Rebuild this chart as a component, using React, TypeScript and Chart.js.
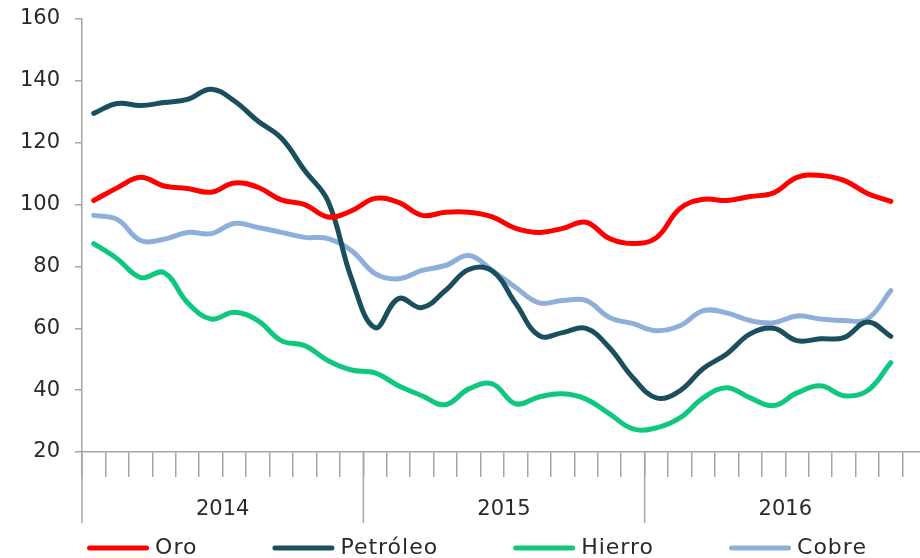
import React, { useEffect, useRef } from 'react';
import { Chart, registerables } from 'chart.js';

Chart.register(...registerables);

const months = [
  'ene-14', 'feb-14', 'mar-14', 'abr-14', 'may-14', 'jun-14', 'jul-14', 'ago-14', 'sep-14', 'oct-14', 'nov-14', 'dic-14',
  'ene-15', 'feb-15', 'mar-15', 'abr-15', 'may-15', 'jun-15', 'jul-15', 'ago-15', 'sep-15', 'oct-15', 'nov-15', 'dic-15',
  'ene-16', 'feb-16', 'mar-16', 'abr-16', 'may-16', 'jun-16', 'jul-16', 'ago-16', 'sep-16', 'oct-16', 'nov-16', 'dic-16',
];

const years = ['2014', '2015', '2016'];
const monthsPerYear = 12;

const oro = [
  101.3, 105.4, 108.8, 106, 105.2, 104, 107, 105.6, 101.5, 100, 96, 98,
  102, 100.7, 96.5, 97.5, 97.5, 96, 92.3, 91, 92.3, 94.3, 89, 87.4,
  89.3, 98.7, 101.7, 101.3, 102.6, 103.8, 108.8, 109.4, 107.8, 103.6, 101, null,
];
const petroleo = [
  129.5, 132.7, 132, 133, 134, 137.3, 133.5, 127, 121.5, 111, 101, 76,
  60.2, 69.6, 66.7, 72.2, 79, 78.5, 68, 57.6, 58.6, 60, 53.7, 44,
  37.5, 39.8, 47, 51.7, 58.2, 60, 56, 56.6, 57, 62, 57.4, null,
];
const hierro = [
  87.4, 82.5, 76.4, 78, 68.3, 63, 65.2, 62.5, 56, 54.4, 49.5, 46.5,
  45.6, 41.4, 38.2, 35.3, 40.4, 42, 35.6, 37.8, 38.8, 37.1, 32.3, 27.5,
  27.8, 31, 37.5, 40.8, 37.5, 35, 39.1, 41.4, 38.2, 39.8, 48.9, null,
];
const cobre = [
  96.5, 95.2, 88.4, 88.8, 91, 90.6, 93.9, 92.6, 91, 89.4, 89, 85.1,
  77.7, 76, 78.7, 80.3, 83.5, 78.7, 73.2, 68.2, 69, 69, 63.5, 61.5,
  59.2, 60.8, 65.7, 65, 62.5, 61.8, 64, 63, 62.5, 63, 72.2, null,
];

const seriesNames = ['Oro', 'Petróleo', 'Hierro', 'Cobre'];
const seriesColors = ['#ff0000', '#1c4f5e', '#10c77f', '#8fafdb'];

const yTicks = [20, 40, 60, 80, 100, 120, 140, 160];

const FONT = '"DejaVu Sans", sans-serif';
const TEXT = '#2a2a2a';
const AXIS = '#a6a6a6';

const overlayPlugin = {
  id: 'yearsAndLegend',
  afterDraw(chart: any) {
    const ctx = chart.ctx;
    const x = chart.scales.x;
    const step = x.getPixelForValue(1) - x.getPixelForValue(0);
    const base = chart.chartArea.bottom;
    ctx.save();
    // year dividers + labels
    ctx.strokeStyle = AXIS;
    ctx.lineWidth = 1.5;
    ctx.fillStyle = TEXT;
    ctx.font = `21px ${FONT}`;
    ctx.textAlign = 'center';
    ctx.textBaseline = 'middle';
    years.forEach((yr, k) => {
      const start = x.getPixelForValue(k * monthsPerYear) - step / 2;
      const end = x.getPixelForValue(k * monthsPerYear + monthsPerYear - 1) + step / 2;
      ctx.beginPath();
      ctx.moveTo(start, base);
      ctx.lineTo(start, base + 71);
      ctx.stroke();
      if (k === years.length - 1) {
        ctx.beginPath();
        ctx.moveTo(end, base);
        ctx.lineTo(end, base + 71);
        ctx.stroke();
      }
      ctx.fillText(yr, (start + end) / 2, base + 58);
    });

    // legend
    const lineLen = 62;
    const lineGap = 6;
    const itemGap = 75;
    ctx.font = `22px ${FONT}`;
    (ctx as any).letterSpacing = '1px';
    const ds = chart.data.datasets;
    const widths = ds.map((d: any) => lineLen + lineGap + ctx.measureText(d.label).width);
    const total = widths.reduce((a: number, b: number) => a + b, 0) + itemGap * (ds.length - 1);
    let cx = chart.width / 2 - total / 2;
    const ly = 548;
    ds.forEach((d: any, i: number) => {
      ctx.strokeStyle = d.borderColor;
      ctx.lineWidth = 5;
      ctx.lineCap = 'round';
      ctx.beginPath();
      ctx.moveTo(cx + 2.5, ly);
      ctx.lineTo(cx + lineLen - 2.5, ly);
      ctx.stroke();
      ctx.fillStyle = TEXT;
      ctx.textAlign = 'left';
      ctx.textBaseline = 'middle';
      ctx.fillText(d.label, cx + lineLen + lineGap, ly);
      cx += widths[i] + itemGap;
    });
    ctx.restore();
  },
};

export default function App() {
  const ref = useRef<HTMLCanvasElement | null>(null);

  useEffect(() => {
    if (!ref.current) return;
    const values = [oro, petroleo, hierro, cobre];
    const chart = new Chart(ref.current, {
      type: 'line',
      data: {
        labels: months,
        datasets: seriesNames.map((name, i) => ({
          label: name,
          data: values[i],
          borderColor: seriesColors[i],
          backgroundColor: seriesColors[i],
          borderWidth: 5,
          pointRadius: 0,
          tension: 0.4,
          fill: false,
          borderCapStyle: 'round' as const,
          borderJoinStyle: 'round' as const,
        })),
      },
      options: {
        animation: false,
        responsive: true,
        maintainAspectRatio: false,
        layout: { padding: { top: 19, right: 28, bottom: 0, left: 0 } },
        plugins: {
          legend: { display: false },
          tooltip: { enabled: false },
        },
        scales: {
          x: {
            type: 'category',
            offset: true,
            grid: {
              display: true,
              drawOnChartArea: false,
              offset: true,
              tickLength: 25,
              color: AXIS,
              lineWidth: 1.5,
            },
            border: { display: true, color: AXIS, width: 1.5 },
            ticks: { display: false },
            afterFit: (s: any) => {
              s.height = 106;
              s.paddingLeft = 0;
              s.paddingRight = 0;
            },
          },
          y: {
            min: 20,
            max: 160,
            afterBuildTicks: (s: any) => {
              s.ticks = yTicks.map((v) => ({ value: v }));
            },
            grid: {
              display: true,
              drawOnChartArea: false,
              tickLength: 7,
              color: AXIS,
              lineWidth: 1.5,
            },
            border: { display: true, color: AXIS, width: 1.5 },
            ticks: {
              color: TEXT,
              font: { family: FONT, size: 21 },
              padding: 15,
            },
            afterFit: (s: any) => {
              s.width = 82;
              s.paddingTop = 0;
              s.paddingBottom = 0;
            },
          },
        },
      },
      plugins: [overlayPlugin],
    });
    return () => chart.destroy();
  }, []);

  return (
    <div style={{ position: 'fixed', left: 0, top: 0, width: 920, height: 558, overflow: 'hidden', background: '#fff' }}>
      <div style={{ position: 'relative', width: 954, height: 558 }}>
        <canvas ref={ref} />
      </div>
    </div>
  );
}
